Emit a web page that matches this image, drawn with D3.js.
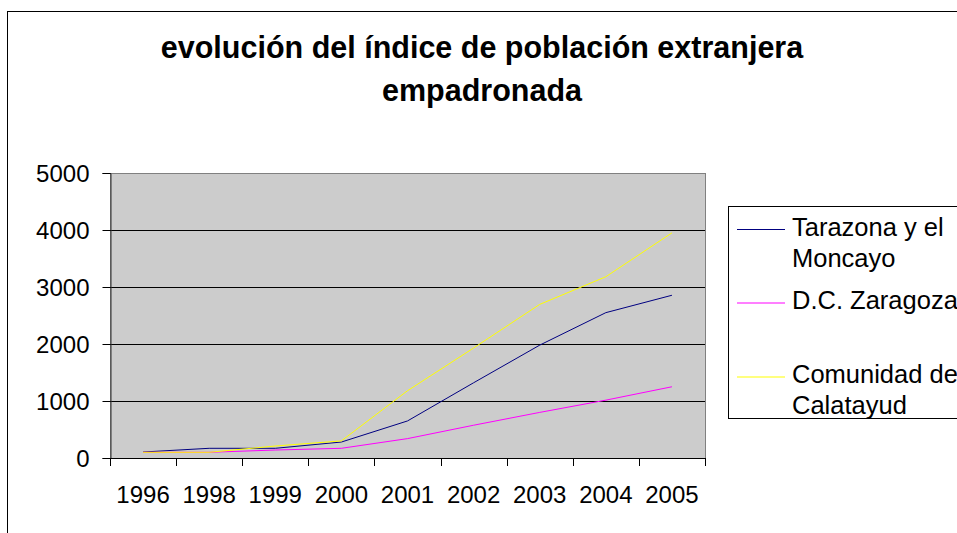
<!DOCTYPE html>
<html>
<head>
<meta charset="utf-8">
<script src="https://cdn.jsdelivr.net/npm/d3@7"></script>
<style>
  body { margin: 0; background: #fff; }
  text { font-family: "Liberation Sans", Arial, sans-serif; }
</style>
</head>
<body>
<div id="vis"></div>
<script>
// Chart data
const years = ["1996", "1998", "1999", "2000", "2001", "2002", "2003", "2004", "2005"]
const tarazona = [105, 170, 170, 280, 650, 1320, 1980, 2550, 2855]
const zaragoza = [100, 100, 140, 170, 340, 575, 800, 1015, 1250]
const calatayud = [100, 100, 210, 300, 1180, 1930, 2695, 3180, 3950]
const yTicks = [0, 1000, 2000, 3000, 4000, 5000]
const seriesNames = [["Tarazona y el", "Moncayo"], ["D.C. Zaragoza"], ["Comunidad de", "Calatayud"]]
const seriesColors = ["#000080", "#ff00ff", "#ffff00"]

const W = 957, H = 533
const plot = {left: 110, top: 173, right: 705, bottom: 458}

let svg = d3.select("#vis")
    .append("svg")
    .attr("width", W)
    .attr("height", H)

// outer chart frame (runs off the right and bottom edges)
svg.append("rect")
    .attr("x", 7.5).attr("y", 11.5)
    .attr("width", 1000).attr("height", 600)
    .attr("fill", "none").attr("stroke", "#000")

// title
svg.append("text")
    .attr("x", 482).attr("y", 58)
    .attr("text-anchor", "middle")
    .attr("font-size", 30.5).attr("font-weight", "bold")
    .text("evolución del índice de población extranjera")
svg.append("text")
    .attr("x", 482).attr("y", 101)
    .attr("text-anchor", "middle")
    .attr("font-size", 30.5).attr("font-weight", "bold")
    .text("empadronada")

var x = d3.scaleBand()
    .domain(years)
    .range([plot.left, plot.right])

var y = d3.scaleLinear()
    .domain([0, 5000])
    .range([plot.bottom, plot.top])

// plot background
svg.append("rect")
    .attr("x", plot.left + 0.5).attr("y", plot.top + 0.5)
    .attr("width", plot.right - plot.left).attr("height", plot.bottom - plot.top)
    .attr("fill", "#cccccc")
    .attr("stroke", "#808080")

// gridlines
svg.append("g")
    .selectAll("line")
    .data(yTicks.filter(d => d > 0 && d < 5000))
    .enter()
    .append("line")
    .attr("x1", plot.left).attr("x2", plot.right)
    .attr("y1", d => Math.round(y(d)) + 0.5).attr("y2", d => Math.round(y(d)) + 0.5)
    .attr("stroke", "#000")

// y axis
let yAxis = svg.append("g")
    .attr("transform", `translate(${plot.left + 0.5},0)`)
    .call(d3.axisLeft(y).tickValues(yTicks).tickSize(8).tickPadding(13).tickFormat(d3.format("d")))
yAxis.select(".domain").attr("stroke", "#333")
yAxis.selectAll("text").attr("font-size", 24).attr("fill", "#000")
    .attr("dy", "0.35em")
    .attr("font-family", "Liberation Sans, Arial, sans-serif")

// x axis: ticks at category boundaries, labels at centres
let xAxisY = plot.bottom + 0.5
svg.append("line")
    .attr("x1", plot.left).attr("x2", plot.right)
    .attr("y1", xAxisY).attr("y2", xAxisY)
    .attr("stroke", "#000")
let bounds = years.map(d => x(d)).concat([plot.right])
svg.append("g")
    .selectAll("line")
    .data(bounds)
    .enter()
    .append("line")
    .attr("x1", d => Math.round(d) + 0.5).attr("x2", d => Math.round(d) + 0.5)
    .attr("y1", plot.bottom).attr("y2", plot.bottom + 8)
    .attr("stroke", "#000")
svg.append("g")
    .selectAll("text")
    .data(years)
    .enter()
    .append("text")
    .attr("x", d => x(d) + x.bandwidth() / 2)
    .attr("y", 503)
    .attr("text-anchor", "middle")
    .attr("font-size", 24)
    .text(d => d)

// series lines
let line = d3.line()
    .x((d, i) => x(years[i]) + x.bandwidth() / 2)
    .y(d => y(d))

let allSeries = [tarazona, zaragoza, calatayud]
svg.append("g")
    .selectAll("path")
    .data(allSeries)
    .enter()
    .append("path")
    .attr("d", d => line(d))
    .attr("fill", "none")
    .attr("stroke", (d, i) => seriesColors[i])
    .attr("stroke-width", 1)

// legend
let legend = svg.append("g")
legend.append("rect")
    .attr("x", 728.5).attr("y", 206.5)
    .attr("width", 300).attr("height", 212)
    .attr("fill", "#fff").attr("stroke", "#000")
const legendY = [229.5, 303, 377]
legend.selectAll("path.key")
    .data(seriesColors)
    .enter()
    .append("path")
    .attr("class", "key")
    .attr("d", (c, i) => `M737,${legendY[i]}H785`)
    .attr("fill", "none")
    .attr("stroke", c => c)
    .attr("stroke-width", 1.2)
seriesNames.forEach(function(names, i){
    names.forEach(function(n, j){
        legend.append("text")
            .attr("x", 792).attr("y", Math.round(legendY[i]) + 6 + j * 31)
            .attr("font-size", 25.5)
            .text(n)
    })
})
</script>
</body>
</html>
